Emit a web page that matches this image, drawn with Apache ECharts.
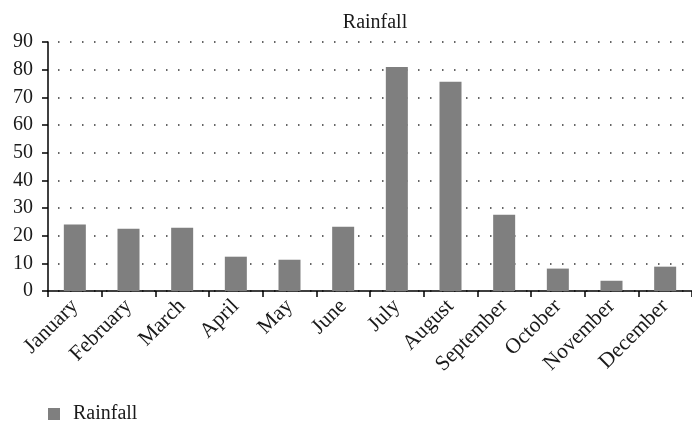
<!DOCTYPE html>
<html>
<head>
<meta charset="utf-8">
<script src="https://cdn.jsdelivr.net/npm/echarts@6/dist/echarts.min.js"></script>
<style>
  html, body { margin: 0; padding: 0; background: #fff; }
  #chart { width: 692px; height: 424px; }
</style>
</head>
<body>
<div id="chart"></div>
<script>
// Monthly rainfall
const months = ['January', 'February', 'March', 'April', 'May', 'June',
  'July', 'August', 'September', 'October', 'November', 'December'];
const rainfall = [24.0, 22.5, 22.9, 12.4, 11.3, 23.2, 81.0, 75.6, 27.6, 8.1, 3.7, 8.8];
const yTicks = [0, 10, 20, 30, 40, 50, 60, 70, 80, 90];

const serif = '"Liberation Serif", "DejaVu Serif", serif';
const ink = '#1a1a1a';

const chart = echarts.init(document.getElementById('chart'), null, { renderer: 'canvas' });
chart.setOption({
  animation: false,
  title: {
    text: 'Rainfall',
    left: 370,
    textAlign: 'center',
    top: 8,
    textStyle: { fontFamily: serif, fontSize: 20, fontWeight: 'normal', color: ink }
  },
  legend: {
    data: ['Rainfall'],
    left: 43,
    top: 399,
    icon: 'rect',
    itemWidth: 12,
    itemHeight: 12,
    itemGap: 10,
    textStyle: { fontFamily: serif, fontSize: 20, color: ink, padding: [0, 0, 0, 8] }
  },
  grid: { left: 48, right: -8, top: 42, bottom: 133, containLabel: false },
  xAxis: {
    type: 'category',
    data: months,
    boundaryGap: true,
    axisLine: { lineStyle: { color: '#000', width: 1.5 } },
    axisTick: { show: true, length: 6, lineStyle: { color: '#000', width: 1.5 } },
    axisLabel: {
      rotate: 45,
      margin: 12,
      fontFamily: serif,
      fontSize: 21.5,
      color: ink,
      interval: 0,
      padding: [8, 0, 0, 0]
    }
  },
  yAxis: {
    type: 'value',
    min: yTicks[0],
    max: yTicks[yTicks.length - 1],
    interval: 10,
    axisLine: { show: true, lineStyle: { color: '#000', width: 1.5 } },
    axisTick: { show: true, length: 6, lineStyle: { color: '#000', width: 1.5 } },
    axisLabel: { fontFamily: serif, fontSize: 20, color: ink, margin: 15 },
    splitLine: {
      show: true,
      lineStyle: { color: '#333', width: 1.5, type: [1.5, 10.5], dashOffset: -10 }
    }
  },
  series: [{
    name: 'Rainfall',
    type: 'bar',
    data: rainfall,
    barWidth: 22,
    itemStyle: { color: '#7f7f7f' }
  }]
});
</script>
</body>
</html>
